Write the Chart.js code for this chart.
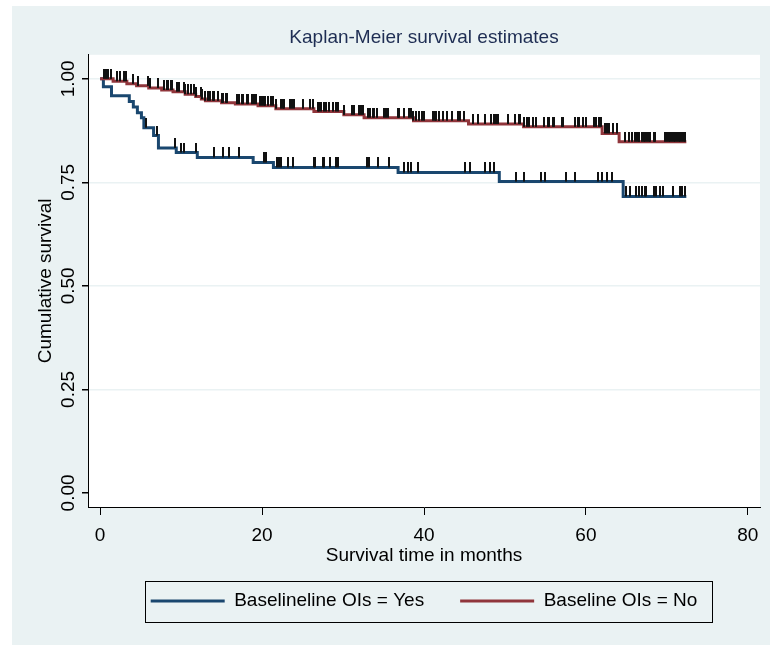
<!DOCTYPE html>
<html>
<head>
<meta charset="utf-8">
<title>Kaplan-Meier survival estimates</title>
<script src="https://cdn.jsdelivr.net/npm/chart.js@4.4.1/dist/chart.umd.min.js"></script>
<style>
  body { margin: 0; background: #fff; }
  canvas { display: block; }
</style>
</head>
<body>
<canvas id="kmChart" width="770" height="652"></canvas>
<script>
// Datos (tiempo en meses, supervivencia acumulada)
const groups = ['Baselineline OIs = Yes', 'Baseline OIs = No'];
const xTicks = [0, 20, 40, 60, 80];
const yTicks = [0, 0.25, 0.5, 0.75, 1];
const yTickLabels = ['0.00', '0.25', '0.50', '0.75', '1.00'];

// Curva OIs = Yes
const yesTimes = [0, 0.4, 1.4, 3.6, 4.1, 4.6, 5.1, 5.4, 6.6, 7.2, 9.4, 12.0, 18.9, 21.4, 36.8, 49.3, 64.6, 72.4];
const yesSurv = [1, 0.981, 0.959, 0.945, 0.932, 0.918, 0.906, 0.882, 0.863, 0.833, 0.822, 0.810, 0.798, 0.786, 0.774, 0.752, 0.716, 0.716];
const yesCensored = [5.7, 7.0, 9.2, 10.0, 10.3, 11.8, 14.1, 15.2, 15.9, 17.1, 20.2, 20.5, 21.8, 22.1, 22.3, 23.2, 23.8,
  26.4, 26.5, 27.5, 27.6, 28.4, 29.1, 29.4, 33.0, 33.2, 34.3, 35.7, 37.5, 38.0, 38.4, 39.2, 45.1, 45.7, 47.5, 48.2,
  48.7, 51.4, 52.3, 54.4, 54.9, 57.6, 58.6, 61.5, 62.0, 62.6, 63.2, 64.9, 65.4, 66.2, 66.6, 66.9, 67.3, 67.4, 68.4,
  68.6, 69.1, 69.5, 70.8, 71.6, 71.9, 72.2];

// Curva OIs = No
const noTimes = [0, 1.6, 3.3, 4.5, 6.0, 7.6, 9.0, 10.5, 11.8, 12.5, 13.0, 15.0, 16.7, 19.5, 21.7, 26.4, 30.1, 32.6, 38.7, 45.5, 52.3, 62.0, 64.1, 72.4];
const noSurv = [1, 0.994, 0.988, 0.983, 0.978, 0.973, 0.969, 0.963, 0.957, 0.951, 0.947, 0.942, 0.939, 0.935, 0.928, 0.921, 0.913, 0.906, 0.899, 0.891, 0.884, 0.868, 0.848, 0.848];
const noCensored = [0.5, 0.7, 1.0, 1.4, 2.1, 2.4, 2.9, 3.2, 4.1, 4.7, 5.9, 6.2, 7.2, 7.9, 8.2, 8.4, 8.7, 8.9, 9.5, 9.8,
  10.3, 10.5, 10.9, 11.2, 11.6, 11.9, 12.4, 12.6, 13.0, 13.3, 13.6, 14.0, 14.1, 14.5, 15.1, 15.2, 15.6, 15.7, 16.9,
  17.1, 17.5, 17.7, 18.1, 18.3, 18.7, 19.0, 19.3, 19.7, 20.0, 20.2, 20.4, 20.7, 21.1, 21.4, 21.7, 22.3, 22.6, 22.7,
  23.4, 23.7, 23.9, 25.0, 25.9, 26.3, 26.9, 27.0, 27.3, 27.6, 27.9, 28.3, 28.7, 29.1, 29.4, 30.1, 31.1, 31.4, 32.0,
  32.2, 32.5, 33.1, 33.3, 33.7, 33.8, 34.2, 35.1, 35.3, 35.6, 36.8, 36.9, 37.5, 38.2, 38.4, 38.7, 39.0, 39.4, 39.7,
  40.0, 41.1, 41.3, 41.5, 41.8, 41.9, 42.3, 42.8, 43.4, 44.2, 44.4, 45.0, 46.1, 46.7, 47.5, 48.3, 48.6, 48.7, 48.9,
  49.2, 50.4, 51.2, 51.7, 51.8, 52.4, 52.7, 53.0, 53.5, 53.8, 54.8, 55.3, 55.5, 55.9, 56.1, 57.0, 57.2, 58.6, 59.0,
  59.2, 59.7, 60.0, 61.0, 61.2, 61.6, 61.8, 62.3, 62.6, 62.8, 63.3, 63.8, 64.8, 65.3, 65.7, 66.0, 66.3, 66.5, 66.6,
  66.9, 67.2, 67.3, 67.5, 67.8, 67.9, 68.4, 68.5, 69.8, 70.0, 70.3, 70.4, 70.6, 70.9, 71.0, 71.3, 71.5, 71.6, 71.9,
  72.1, 72.2];

const lineColors = ['#1a476f', '#90353b'];
const bgColor = '#eaf2f3';
const fontFamily = "'Liberation Sans', Arial, sans-serif";

// valor de la curva escalonada en el tiempo t
function survAt(times, surv, t) {
  let s = surv[0];
  for (let i = 0; i < times.length; i++) {
    if (times[i] <= t) s = surv[i];
  }
  return s;
}

const toPoints = (times, surv) => times.map((t, i) => ({ x: t, y: surv[i] }));
const censorPoints = (cens, times, surv) => cens.map(t => ({ x: t, y: survAt(times, surv, t) }));

// marca de censura: linea vertical por encima de la curva
const tickMark = document.createElement('canvas');
tickMark.width = 2;
tickMark.height = 20;
const tctx = tickMark.getContext('2d');
tctx.fillStyle = '#111';
tctx.fillRect(0, 0, 2, 10);

// Fondo del grafico y area blanca del trazado
const fondo = {
  id: 'fondo',
  beforeDraw(chart) {
    const { ctx, chartArea } = chart;
    ctx.save();
    ctx.fillStyle = bgColor;
    ctx.fillRect(12, 6, 758, 639);
    ctx.fillStyle = '#fff';
    ctx.fillRect(chartArea.left, chartArea.top, chartArea.right - chartArea.left, chartArea.bottom - chartArea.top);
    ctx.restore();
  }
};

// Recuadro alrededor de la leyenda
const marcoLeyenda = {
  id: 'marcoLeyenda',
  afterDraw(chart) {
    const lg = chart.legend;
    const hb = lg.legendHitBoxes;
    if (!hb || !hb.length) return;
    const left = hb[0].left - 6;
    const right = hb[hb.length - 1].left + hb[hb.length - 1].width + 14;
    const cy = hb[0].top + hb[0].height / 2;
    const ctx = chart.ctx;
    ctx.save();
    ctx.strokeStyle = '#000';
    ctx.lineWidth = 1;
    ctx.strokeRect(Math.round(left) + 0.5, Math.round(cy - 20.5) + 0.5, Math.round(right - left), 41);
    ctx.restore();
  }
};

const ctx = document.getElementById('kmChart').getContext('2d');
new Chart(ctx, {
  type: 'line',
  data: {
    datasets: [
      {
        label: groups[0],
        data: toPoints(yesTimes, yesSurv),
        stepped: true,
        borderColor: lineColors[0],
        borderWidth: 3,
        pointRadius: 0,
        fill: false,
        order: 3
      },
      {
        label: groups[1],
        data: toPoints(noTimes, noSurv),
        stepped: true,
        borderColor: lineColors[1],
        borderWidth: 3,
        pointRadius: 0,
        fill: false,
        order: 2
      },
      {
        label: 'censored yes',
        data: censorPoints(yesCensored, yesTimes, yesSurv),
        showLine: false,
        pointStyle: tickMark,
        pointRadius: 5,
        order: 1
      },
      {
        label: 'censored no',
        data: censorPoints(noCensored, noTimes, noSurv),
        showLine: false,
        pointStyle: tickMark,
        pointRadius: 5,
        order: 0
      }
    ]
  },
  options: {
    responsive: false,
    animation: false,
    layout: { padding: { left: 12, right: 10, top: 0, bottom: 31.5 } },
    font: { family: fontFamily },
    plugins: {
      tooltip: { enabled: false },
      title: {
        display: true,
        fullSize: false,
        text: 'Kaplan-Meier survival estimates',
        color: '#1e2d53',
        font: { family: fontFamily, size: 19, weight: 'normal' },
        padding: { top: 26, bottom: 6 }
      },
      legend: {
        position: 'bottom',
        fullSize: false,
        labels: {
          boxWidth: 74,
          boxHeight: 3,
          padding: 36,
          color: '#000',
          font: { family: fontFamily, size: 19 },
          generateLabels: () => groups.map((g, i) => ({
            text: g,
            fillStyle: lineColors[i],
            strokeStyle: lineColors[i],
            lineWidth: 0,
            hidden: false,
            datasetIndex: i,
            fontColor: '#000'
          }))
        }
      }
    },
    scales: {
      x: {
        type: 'linear',
        min: -1.5,
        max: 81.5,
        afterBuildTicks: (scale) => { scale.ticks = xTicks.map(v => ({ value: v })); },
        afterFit: (scale) => { scale.height = 48.5; },
        ticks: {
          autoSkip: false,
          maxRotation: 0,
          padding: 9,
          color: '#000',
          font: { family: fontFamily, size: 19 }
        },
        grid: { drawOnChartArea: false, tickLength: 8, tickColor: '#000', color: '#000' },
        border: { display: true, color: '#000', width: 1 },
        title: {
          display: true,
          text: 'Survival time in months',
          color: '#000',
          font: { family: fontFamily, size: 19 },
          padding: { top: 0, bottom: -12 }
        }
      },
      y: {
        type: 'linear',
        min: -0.034,
        max: 1.058,
        afterBuildTicks: (scale) => { scale.ticks = yTicks.map(v => ({ value: v })); },
        afterFit: (scale) => { scale.width = 76; },
        ticks: {
          minRotation: 90,
          maxRotation: 90,
          crossAlign: 'center',
          padding: -5,
          color: '#000',
          font: { family: fontFamily, size: 19 },
          callback: (value, index) => yTickLabels[yTicks.indexOf(value)]
        },
        grid: {
          tickLength: 6,
          tickColor: '#000',
          lineWidth: 1.5,
          color: (c) => (c.tick && c.tick.value === 0 ? 'rgba(0,0,0,0)' : bgColor)
        },
        border: { display: true, color: '#000', width: 1 },
        title: {
          display: true,
          text: 'Cumulative survival',
          color: '#000',
          font: { family: fontFamily, size: 19 },
          padding: { top: 22, bottom: 0 }
        }
      }
    }
  },
  plugins: [fondo, marcoLeyenda]
});
</script>
</body>
</html>
